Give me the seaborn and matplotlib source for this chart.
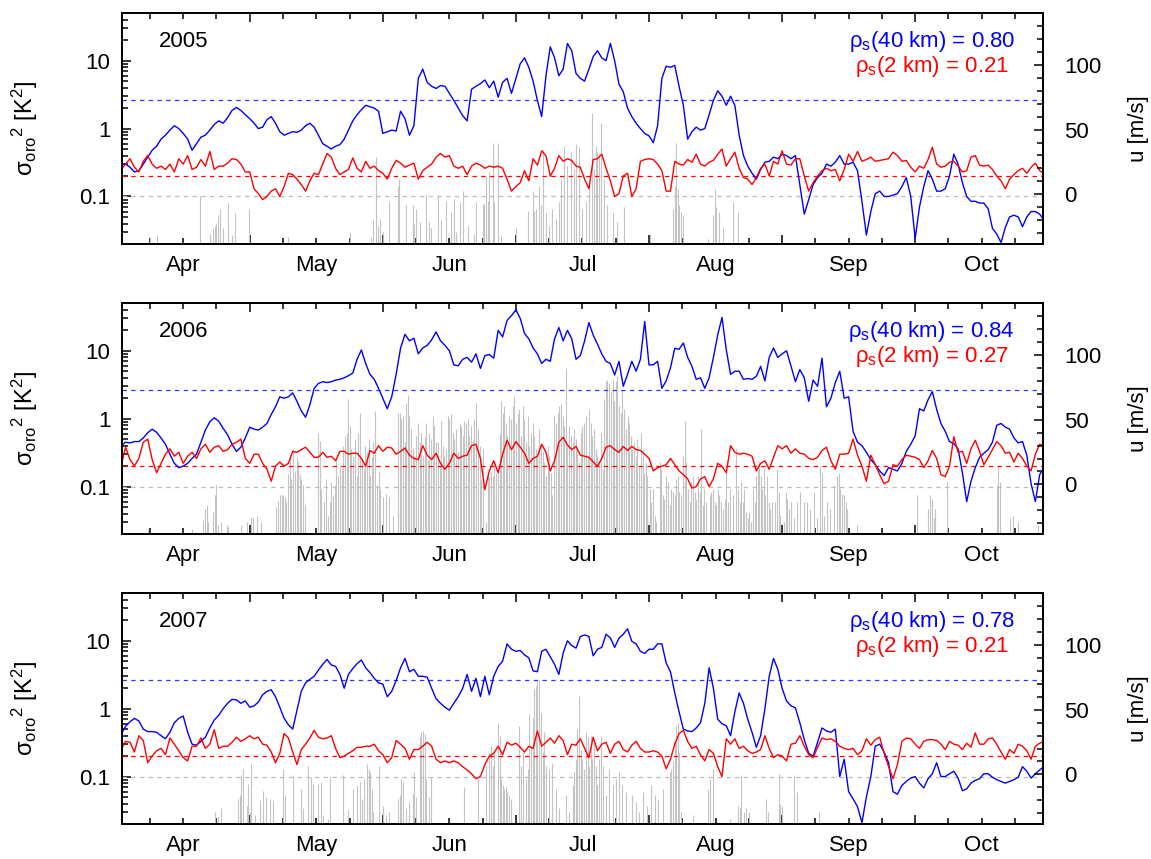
import matplotlib
matplotlib.use("Agg")
import numpy as np
import pandas as pd
import matplotlib.pyplot as plt
from matplotlib.ticker import (FixedLocator, FixedFormatter, NullFormatter,
                               LogLocator, MultipleLocator)
import seaborn as sns

sns.set_theme(style="white")
plt.rcParams["font.family"] = ["Liberation Sans", "DejaVu Sans"]
plt.rcParams.update({
    "mathtext.fontset": "custom",
    "mathtext.rm": "Liberation Sans",
    "mathtext.it": "Liberation Sans:italic",
    "mathtext.bf": "Liberation Sans:bold",
    "axes.edgecolor": "black",
    "axes.linewidth": 1.3,
    "xtick.color": "black",
    "ytick.color": "black",
    "text.color": "black",
    "axes.labelcolor": "black",
})

# ---------------------------------------------------------------- data
MONTH_LABELS = ["Apr", "May", "Jun", "Jul", "Aug", "Sep", "Oct"]
YEARS = [2005, 2006, 2007]
RHO_40KM = [0.80, 0.84, 0.78]
RHO_2KM = [0.21, 0.27, 0.21]
LEVEL_40KM = 2.6    # K^2
LEVEL_2KM = 0.2     # K^2
LEVEL_ZERO = 0.1    # K^2

# daily orographic GW temperature variance at 40 km, starting 1 April
var40_2005 = [
    0.30, 0.29, 0.30, 0.27, 0.23, 0.24, 0.30, 0.38, 0.48, 0.55, 0.70, 0.80, 0.95, 1.10, 1.00,
    0.85, 0.70, 0.48, 0.60, 0.75, 0.80, 0.95, 1.15, 1.30, 1.20, 1.45, 1.85, 2.05, 1.85, 1.60,
    1.40, 1.20, 1.00, 1.05, 1.35, 1.50, 1.20, 0.90, 0.80, 0.85, 0.90, 0.88, 0.95, 1.10, 1.20, 1.05,
    0.80, 0.60, 0.55, 0.50, 0.55, 0.58, 0.70, 0.95, 1.30, 1.60, 1.90, 2.20, 2.10, 2.00, 1.80,
    0.85, 0.90, 0.95, 0.92, 1.80, 1.40, 0.80, 1.10, 5.50, 7.50, 4.80, 4.20, 3.90, 4.30, 4.20,
    3.30, 2.60, 2.00, 1.55, 1.30, 3.80, 4.20, 4.60, 5.20, 4.00, 5.00, 2.90, 4.80, 5.50, 3.30,
    5.50, 9.00, 11.0, 8.00, 5.00, 2.60, 1.50, 6.00, 16.0, 11.0, 6.00, 7.50, 18.0, 14.0, 6.50, 5.50,
    5.00, 7.50, 11.5, 14.0, 11.0, 10.0, 18.0, 10.0, 4.50, 3.50, 2.00, 1.50, 1.20, 1.00, 0.85,
    0.78, 0.62, 1.10, 5.50, 8.30, 8.00, 8.50, 4.20, 2.20, 0.70, 0.90, 1.05, 0.95, 1.00, 1.60, 2.60,
    3.60, 3.00, 2.20, 3.00, 2.20, 0.80, 0.40, 0.28, 0.22, 0.18, 0.25, 0.32, 0.33, 0.38, 0.36,
    0.42, 0.40, 0.36, 0.40, 0.15, 0.055, 0.09, 0.15, 0.19, 0.22, 0.30, 0.28, 0.32, 0.40, 0.30,
    0.30, 0.32, 0.24, 0.085, 0.027, 0.06, 0.11, 0.12, 0.10, 0.10, 0.105, 0.11, 0.14, 0.19, 0.10,
    0.024, 0.07, 0.14, 0.24, 0.18, 0.12, 0.12, 0.13, 0.20, 0.42, 0.30, 0.16, 0.10, 0.085, 0.085, 0.08,
    0.08, 0.066, 0.034, 0.028, 0.021, 0.035, 0.05, 0.053, 0.05, 0.036, 0.05, 0.06, 0.06, 0.055, 0.045,
]
var40_2006 = [
    0.36, 0.40, 0.45, 0.44, 0.46, 0.46, 0.52, 0.62, 0.70, 0.63, 0.52, 0.42, 0.30, 0.22, 0.19,
    0.20, 0.22, 0.26, 0.30, 0.45, 0.68, 0.90, 1.03, 0.92, 0.72, 0.58, 0.42, 0.33, 0.38, 0.52,
    0.75, 0.70, 0.68, 0.75, 0.85, 1.15, 1.50, 2.10, 2.00, 2.10, 2.40, 1.80, 1.30, 1.05, 1.60, 2.80,
    3.30, 3.50, 3.40, 3.50, 3.70, 3.80, 4.00, 4.30, 4.70, 7.50, 10.3, 6.50, 4.50, 3.80, 2.80,
    2.00, 1.40, 2.10, 4.50, 11.0, 17.5, 14.0, 15.3, 9.00, 11.0, 12.0, 14.5, 19.0, 14.0, 12.0,
    10.0, 6.20, 6.00, 7.50, 8.00, 6.80, 9.00, 5.50, 8.50, 8.80, 7.80, 20.0, 16.0, 28.0, 33.0,
    40.0, 30.0, 18.0, 15.0, 11.0, 9.00, 6.50, 7.50, 7.00, 15.0, 22.0, 14.0, 20.0, 15.0, 7.50, 8.50,
    14.0, 26.0, 17.0, 12.5, 9.00, 7.00, 6.50, 4.40, 7.00, 3.00, 4.50, 7.00, 5.00, 7.50, 27.0,
    6.20, 6.20, 7.00, 2.80, 3.60, 5.60, 10.9, 10.5, 13.0, 8.00, 5.90, 3.80, 4.00, 2.80, 4.00, 8.00,
    17.0, 31.0, 10.3, 4.50, 5.00, 5.00, 3.80, 3.90, 3.80, 4.20, 5.90, 3.60, 8.00, 11.0, 8.00,
    9.00, 10.0, 6.00, 3.50, 5.30, 4.00, 1.80, 3.70, 3.00, 7.80, 1.50, 2.00, 3.40, 5.00, 2.00,
    2.10, 0.65, 0.45, 0.40, 0.32, 0.25, 0.21, 0.17, 0.145, 0.19, 0.18, 0.17, 0.22, 0.33, 0.42,
    0.56, 1.40, 1.30, 1.90, 2.50, 1.37, 0.85, 0.65, 0.46, 0.43, 0.36, 0.16, 0.06, 0.12, 0.19, 0.27,
    0.31, 0.35, 0.45, 0.80, 0.85, 0.75, 0.70, 0.52, 0.44, 0.46, 0.29, 0.11, 0.06, 0.15, 0.19,
]
var40_2007 = [
    0.36, 0.42, 0.55, 0.64, 0.72, 0.66, 0.50, 0.46, 0.46, 0.45, 0.40, 0.36, 0.45, 0.62, 0.72,
    0.78, 0.45, 0.30, 0.29, 0.33, 0.38, 0.52, 0.68, 0.80, 1.00, 1.20, 1.37, 1.35, 1.20, 1.30,
    1.05, 1.10, 1.25, 1.60, 1.80, 1.90, 1.50, 1.05, 0.72, 0.58, 0.50, 0.95, 1.80, 2.40, 2.70, 3.00,
    3.70, 4.50, 5.30, 4.40, 4.20, 3.20, 2.00, 3.20, 3.90, 4.60, 5.20, 4.00, 3.40, 2.80, 2.40,
    2.30, 1.50, 1.80, 2.60, 4.00, 5.50, 3.50, 3.80, 3.00, 3.00, 2.90, 2.00, 1.40, 1.20, 1.05,
    0.95, 1.20, 1.50, 2.00, 3.20, 1.80, 2.80, 1.50, 3.00, 1.60, 3.00, 4.20, 5.00, 9.00, 7.50,
    7.00, 7.20, 6.20, 5.60, 3.60, 3.50, 7.00, 7.50, 5.80, 4.50, 3.20, 6.60, 10.0, 8.50, 7.80, 11.5,
    12.2, 11.6, 6.00, 7.50, 8.00, 12.5, 11.0, 8.00, 10.9, 12.5, 15.0, 9.80, 9.00, 7.00, 6.50,
    7.50, 7.50, 9.00, 9.00, 4.70, 3.50, 1.70, 0.90, 0.50, 0.47, 0.46, 0.52, 0.62, 1.20, 4.00, 2.00,
    0.70, 0.60, 0.56, 0.40, 0.90, 1.70, 1.20, 0.70, 0.45, 0.27, 0.40, 1.00, 3.00, 5.50, 3.80,
    2.00, 1.30, 1.10, 1.03, 0.62, 0.35, 0.22, 0.20, 0.32, 0.52, 0.47, 0.45, 0.50, 0.10, 0.18,
    0.06, 0.047, 0.036, 0.021, 0.05, 0.10, 0.28, 0.30, 0.23, 0.16, 0.06, 0.055, 0.074, 0.085, 0.095,
    0.10, 0.08, 0.068, 0.093, 0.11, 0.16, 0.10, 0.10, 0.11, 0.12, 0.095, 0.062, 0.066, 0.08, 0.088,
    0.093, 0.11, 0.11, 0.098, 0.09, 0.085, 0.08, 0.085, 0.09, 0.098, 0.14, 0.12, 0.095, 0.11, 0.125, 0.14,
]

# daily orographic GW temperature variance at 2 km, starting 1 April
var2_2005 = [
    0.26, 0.25, 0.30, 0.36, 0.27, 0.23, 0.33, 0.40, 0.30, 0.26, 0.28, 0.25, 0.30, 0.23, 0.36,
    0.30, 0.40, 0.25, 0.27, 0.35, 0.28, 0.46, 0.25, 0.28, 0.28, 0.31, 0.36, 0.35, 0.30, 0.23,
    0.23, 0.13, 0.11, 0.09, 0.10, 0.12, 0.13, 0.10, 0.14, 0.22, 0.21, 0.18, 0.15, 0.12, 0.17, 0.22,
    0.21, 0.30, 0.43, 0.38, 0.26, 0.21, 0.23, 0.25, 0.37, 0.26, 0.23, 0.33, 0.26, 0.28, 0.24,
    0.22, 0.18, 0.26, 0.34, 0.31, 0.27, 0.29, 0.31, 0.18, 0.24, 0.27, 0.30, 0.38, 0.43, 0.38,
    0.40, 0.28, 0.26, 0.28, 0.21, 0.28, 0.31, 0.29, 0.26, 0.28, 0.27, 0.28, 0.26, 0.18, 0.12,
    0.14, 0.16, 0.24, 0.17, 0.36, 0.29, 0.47, 0.40, 0.20, 0.26, 0.40, 0.33, 0.36, 0.34, 0.28, 0.27,
    0.18, 0.13, 0.35, 0.36, 0.42, 0.26, 0.17, 0.10, 0.11, 0.20, 0.22, 0.10, 0.13, 0.33, 0.35,
    0.36, 0.35, 0.30, 0.24, 0.12, 0.12, 0.33, 0.30, 0.29, 0.35, 0.32, 0.42, 0.30, 0.28, 0.32, 0.34,
    0.42, 0.50, 0.28, 0.36, 0.45, 0.26, 0.19, 0.18, 0.15, 0.19, 0.26, 0.30, 0.20, 0.33, 0.30,
    0.47, 0.30, 0.29, 0.36, 0.36, 0.20, 0.12, 0.16, 0.20, 0.24, 0.26, 0.24, 0.25, 0.17, 0.25,
    0.42, 0.33, 0.46, 0.33, 0.35, 0.38, 0.33, 0.34, 0.35, 0.36, 0.45, 0.40, 0.33, 0.34, 0.27,
    0.23, 0.28, 0.26, 0.35, 0.53, 0.30, 0.27, 0.28, 0.32, 0.33, 0.28, 0.23, 0.24, 0.38, 0.40, 0.29,
    0.28, 0.29, 0.25, 0.20, 0.17, 0.13, 0.18, 0.21, 0.24, 0.26, 0.22, 0.27, 0.31, 0.24, 0.22,
]
var2_2006 = [
    0.22, 0.20, 0.38, 0.25, 0.20, 0.26, 0.45, 0.50, 0.25, 0.16, 0.22, 0.30, 0.36, 0.28, 0.32,
    0.22, 0.28, 0.32, 0.26, 0.36, 0.42, 0.32, 0.38, 0.40, 0.33, 0.35, 0.42, 0.45, 0.50, 0.26,
    0.22, 0.30, 0.30, 0.22, 0.18, 0.12, 0.20, 0.23, 0.20, 0.22, 0.33, 0.32, 0.35, 0.38, 0.32, 0.27,
    0.27, 0.32, 0.27, 0.28, 0.24, 0.33, 0.33, 0.30, 0.31, 0.31, 0.26, 0.20, 0.34, 0.31, 0.40,
    0.33, 0.38, 0.37, 0.30, 0.33, 0.37, 0.29, 0.26, 0.25, 0.40, 0.29, 0.25, 0.31, 0.22, 0.18,
    0.22, 0.31, 0.26, 0.28, 0.29, 0.40, 0.42, 0.26, 0.09, 0.17, 0.24, 0.16, 0.30, 0.48, 0.35,
    0.46, 0.38, 0.31, 0.22, 0.26, 0.28, 0.42, 0.32, 0.17, 0.24, 0.45, 0.53, 0.41, 0.35, 0.39, 0.29,
    0.28, 0.27, 0.23, 0.20, 0.26, 0.38, 0.40, 0.35, 0.32, 0.39, 0.34, 0.39, 0.35, 0.34, 0.30,
    0.26, 0.17, 0.19, 0.20, 0.21, 0.26, 0.21, 0.17, 0.15, 0.13, 0.095, 0.10, 0.13, 0.14, 0.10, 0.13,
    0.22, 0.20, 0.16, 0.40, 0.32, 0.30, 0.31, 0.30, 0.28, 0.17, 0.22, 0.24, 0.18, 0.27, 0.40,
    0.36, 0.40, 0.31, 0.36, 0.31, 0.30, 0.26, 0.25, 0.27, 0.34, 0.38, 0.24, 0.18, 0.30, 0.30,
    0.31, 0.50, 0.29, 0.20, 0.12, 0.29, 0.21, 0.15, 0.11, 0.12, 0.21, 0.20, 0.25, 0.29, 0.28,
    0.27, 0.25, 0.19, 0.24, 0.34, 0.26, 0.15, 0.14, 0.20, 0.54, 0.32, 0.33, 0.22, 0.36, 0.48, 0.33,
    0.21, 0.27, 0.35, 0.46, 0.40, 0.31, 0.32, 0.23, 0.31, 0.26, 0.20, 0.17, 0.30, 0.42, 0.40,
]
var2_2007 = [
    0.25, 0.25, 0.33, 0.32, 0.23, 0.40, 0.34, 0.16, 0.20, 0.24, 0.26, 0.21, 0.37, 0.30, 0.24,
    0.19, 0.17, 0.28, 0.28, 0.37, 0.26, 0.30, 0.49, 0.26, 0.28, 0.28, 0.32, 0.38, 0.33, 0.36,
    0.40, 0.36, 0.38, 0.30, 0.29, 0.23, 0.16, 0.22, 0.43, 0.37, 0.23, 0.15, 0.25, 0.30, 0.37, 0.48,
    0.38, 0.36, 0.37, 0.40, 0.26, 0.19, 0.20, 0.22, 0.24, 0.27, 0.27, 0.28, 0.28, 0.30, 0.24,
    0.21, 0.16, 0.19, 0.34, 0.30, 0.26, 0.18, 0.25, 0.25, 0.28, 0.32, 0.28, 0.18, 0.16, 0.17,
    0.16, 0.17, 0.16, 0.14, 0.125, 0.11, 0.093, 0.10, 0.15, 0.20, 0.22, 0.28, 0.21, 0.32, 0.29,
    0.31, 0.27, 0.23, 0.28, 0.26, 0.47, 0.28, 0.32, 0.37, 0.31, 0.40, 0.34, 0.21, 0.30, 0.29, 0.36,
    0.26, 0.19, 0.38, 0.24, 0.30, 0.32, 0.22, 0.30, 0.33, 0.25, 0.23, 0.29, 0.33, 0.26, 0.23,
    0.23, 0.24, 0.23, 0.20, 0.13, 0.18, 0.30, 0.43, 0.48, 0.33, 0.26, 0.28, 0.21, 0.17, 0.25, 0.22,
    0.14, 0.10, 0.36, 0.30, 0.36, 0.26, 0.28, 0.24, 0.22, 0.23, 0.25, 0.40, 0.26, 0.19, 0.21,
    0.20, 0.17, 0.30, 0.31, 0.40, 0.28, 0.21, 0.19, 0.27, 0.37, 0.35, 0.36, 0.33, 0.28, 0.26,
    0.25, 0.26, 0.21, 0.24, 0.36, 0.29, 0.35, 0.38, 0.22, 0.14, 0.093, 0.15, 0.33, 0.37, 0.36,
    0.30, 0.26, 0.33, 0.35, 0.35, 0.34, 0.30, 0.25, 0.33, 0.30, 0.29, 0.25, 0.31, 0.27, 0.44, 0.30,
    0.30, 0.36, 0.37, 0.30, 0.23, 0.18, 0.25, 0.22, 0.30, 0.28, 0.24, 0.18, 0.28, 0.31, 0.33,
]

# sub-daily samples shown as impulses: time (days after 1 April) and value
bar_day_2005 = [
    7.5, 9.2, 18.8, 21.0, 21.8, 22.1, 22.5, 22.9, 23.3, 24.0, 25.1, 25.9, 26.6, 29.9, 38.9, 53.3,
    58.3, 58.7, 59.3, 59.8, 60.4, 61.0, 62.3, 64.4, 64.75, 66.3, 67.8, 68.1, 68.5, 69.3, 70.8,
    71.5, 71.9, 73.4, 74.1, 75.3, 76.4, 77.1, 77.5, 78.3, 79.0, 80.1, 81.6, 82.0, 83.5, 83.9,
    84.3, 84.6, 85.0, 85.8, 86.1, 86.9, 87.6, 91.0, 93.7, 94.9, 95.3, 95.7, 96.4, 96.8, 97.2,
    98.0, 98.8, 99.5, 100.3, 101.1, 101.5, 102.2, 103.0, 103.8, 104.6, 105.0, 105.7, 106.5,
    107.3, 108.1, 108.8, 109.2, 109.6, 110.0, 110.4, 110.8, 111.5, 112.3, 113.5, 114.6, 116.2,
    122.2, 127.6, 128.0, 128.4, 128.7, 129.1, 129.5, 129.9, 135.7, 136.9, 137.3, 137.7, 138.4,
    139.2, 141.5, 142.7,
]
bar_val_2005 = [
    0.025, 0.027, 0.10, 0.028, 0.034, 0.037, 0.041, 0.053, 0.065, 0.034, 0.081, 0.027, 0.057,
    0.066, 0.025, 0.030, 0.025, 0.046, 0.377, 0.037, 0.046, 0.030, 0.087, 0.145, 0.18, 0.074,
    0.074, 0.040, 0.066, 0.042, 0.11, 0.042, 0.034, 0.104, 0.045, 0.085, 0.059, 0.093, 0.030,
    0.083, 0.122, 0.037, 0.028, 0.083, 0.078, 0.078, 0.203, 0.087, 0.227, 0.62, 0.083, 0.62,
    0.027, 0.034, 0.062, 0.122, 0.062, 0.066, 0.145, 0.074, 0.50, 0.059, 0.037, 0.066, 0.047,
    0.083, 0.18, 0.56, 0.28, 0.45, 0.25, 0.59, 0.53, 0.066, 0.083, 0.145, 1.71, 0.25, 0.56,
    0.45, 0.42, 1.22, 0.18, 0.074, 0.059, 0.042, 0.07, 0.028, 0.066, 0.145, 0.62, 0.13, 0.074,
    0.059, 0.053, 0.024, 0.053, 0.13, 0.07, 0.059, 0.034, 0.083, 0.059,
]
bar_day_2006 = [
    7.1, 16.9, 19.5, 19.9, 20.3, 20.6, 21.8, 22.1, 22.5, 22.9, 23.6, 24.8, 25.1, 28.1, 29.3,
    30.4, 30.8, 31.6, 32.7, 36.2, 36.6, 37.0, 37.4, 37.8, 38.1, 38.5, 38.9, 39.3, 39.7, 40.1,
    40.5, 40.9, 41.3, 41.6, 42.0, 42.4, 42.8, 45.9, 46.3, 46.7, 47.4, 47.8, 48.2, 48.6, 49.0,
    49.4, 49.8, 50.2, 50.6, 51.0, 51.4, 51.8, 52.2, 52.6, 52.9, 53.3, 53.7, 54.1, 54.5, 54.9,
    55.3, 55.7, 56.1, 56.5, 56.9, 57.3, 57.7, 58.1, 58.4, 58.8, 59.2, 59.6, 60.0,
    60.3, 61.0, 61.8, 62.5, 63.3, 64.4, 64.8, 65.1, 65.5, 65.9, 66.3, 66.6, 67.0, 67.4, 67.8,
    68.1, 68.5, 68.9, 69.3, 69.6, 70.0, 70.4, 70.8, 71.1, 71.5, 71.9, 72.3, 72.6, 73.0, 73.4,
    73.8, 74.1, 74.5, 74.9, 75.3, 75.6, 76.0, 76.4, 76.8, 77.1, 77.5, 77.9, 78.3, 78.6, 79.0,
    79.4, 79.8, 80.1, 80.5, 80.9, 81.3, 81.6, 82.0, 82.4, 82.8, 83.1, 83.5, 84.3, 84.6, 85.0,
    85.4, 85.8, 86.1, 86.5, 86.9, 87.3, 87.6, 88.0, 88.4, 88.8, 89.1, 89.5, 89.9, 90.3, 90.6,
    91.0, 91.4, 91.8, 92.2, 92.6, 92.9, 93.3, 93.7, 94.1, 94.5, 94.9, 95.3, 95.7, 96.0, 96.4,
    96.8, 97.2, 97.6, 98.0, 98.4, 98.8, 99.1, 99.5, 99.9, 100.3, 100.7, 101.1, 101.5, 101.9,
    102.2, 102.6, 103.0, 103.4, 103.8, 104.2, 104.6, 105.0, 105.3, 105.7, 106.1, 106.5, 106.9,
    107.3, 107.7, 108.1, 108.4, 108.8, 109.2, 109.6, 110.0, 110.4, 110.8, 111.2, 111.5, 111.9,
    112.3, 112.7, 113.1, 113.5, 113.9, 114.3, 114.6, 115.0, 115.4, 115.8, 116.2, 116.6, 117.0,
    117.4, 117.7, 118.1, 118.5, 118.9, 119.3, 119.7, 120.1, 120.5, 120.8, 121.2, 121.6, 122.2,
    122.5, 122.9, 123.3, 123.7, 124.5, 124.9, 125.3, 125.6, 126.0, 126.4, 126.8, 127.2, 127.6,
    128.0, 128.4, 128.7, 129.1, 129.5, 129.9, 130.3, 130.7, 131.1, 131.5, 131.8, 132.2, 132.6,
    133.0, 133.4, 133.8, 134.2, 134.6, 134.9, 135.3, 136.1, 136.5, 136.9, 137.3, 137.7, 138.0,
    138.4, 138.8, 139.2, 139.6, 140.0, 140.4, 140.8, 141.5, 142.3, 142.7, 143.1, 143.5, 143.9,
    144.2, 144.6, 145.0, 145.4, 145.8, 146.2, 146.6, 147.0, 147.3, 147.7,
    148.0, 148.3, 148.7, 149.1, 149.5, 149.9, 150.3, 150.7, 151.4, 151.8, 152.2, 152.6, 153.4,
    153.8, 154.1, 154.5, 154.9, 155.6, 156.4, 157.1, 157.9, 158.6, 159.4, 160.1, 160.9, 161.6,
    162.0, 162.4, 163.1, 163.9, 164.6, 165.4, 165.8, 166.1, 166.5, 166.9, 167.3, 167.6, 169.9,
    183.4, 186.1, 186.5, 186.9, 187.3, 187.7, 190.4, 202.0, 202.4, 202.8, 205.1, 205.9, 207.0,
    211.7,
]
bar_val_2006 = [
    0.024, 0.024, 0.032, 0.047, 0.054, 0.030, 0.042, 0.074, 0.104, 0.027, 0.030, 0.027, 0.025,
    0.027, 0.030, 0.034, 0.036, 0.037, 0.030, 0.050, 0.062, 0.074, 0.074, 0.074, 0.070, 0.059,
    0.154, 0.284, 0.130, 0.355, 0.171, 0.27, 0.227, 0.154, 0.130, 0.104, 0.056, 0.62, 0.47,
    0.093, 0.059, 0.13, 0.037, 0.059, 0.116, 0.074, 0.104, 0.25, 0.145, 0.203, 0.18, 0.40,
    0.56, 0.62, 1.92, 0.78, 0.355, 0.284, 0.50, 0.145, 0.62, 1.22, 0.25, 0.18, 0.40, 0.32,
    0.50, 0.145, 0.27, 0.45, 1.29, 0.104, 0.171,
    0.093, 0.070, 0.078, 0.070, 0.037, 1.22, 1.22, 0.98, 1.09, 0.45, 1.71, 2.27, 1.09, 0.70,
    0.355, 0.284, 0.56, 0.87, 0.45, 0.62, 0.284, 0.53, 0.87, 0.25, 0.62, 0.50, 1.09, 0.78,
    0.45, 0.45, 0.203, 0.92, 0.40, 0.284, 0.355, 1.09, 0.98, 1.16, 0.62, 0.50, 0.70, 0.32,
    0.87, 0.78, 0.56, 0.92, 0.87, 0.98, 0.56, 0.78, 0.47, 0.98, 1.71, 0.70, 0.40, 0.13, 0.355,
    0.030, 0.145, 0.145, 0.171, 0.145, 0.227, 0.16, 0.18, 0.59, 1.81, 1.22, 1.53, 0.87, 0.56,
    1.09, 0.98, 1.53, 2.15, 0.87, 1.22, 1.37, 0.56, 1.53, 0.98, 0.45, 1.09, 0.40, 0.62, 0.87,
    0.56, 0.355, 0.284, 0.70, 0.40, 0.32, 0.227, 0.145, 0.40, 0.284, 0.16, 0.074, 1.09, 0.87,
    1.22, 1.53, 1.62, 1.09, 0.78, 5.6, 0.40, 0.78, 0.56, 0.45, 0.70, 0.50, 0.355, 0.227, 0.62,
    0.78, 0.87, 1.09, 0.284, 1.37, 0.87, 0.56, 0.70, 0.355, 0.284, 0.227, 0.62, 0.18, 1.92,
    3.55, 3.76, 3.36, 2.54, 3.76, 1.81, 3.55, 4.2, 1.53, 1.22, 2.68, 1.37, 0.70, 1.09, 0.87,
    0.56, 0.355, 0.45, 0.284, 0.50, 0.203, 0.62, 0.355, 0.16, 0.227, 0.145, 0.093, 0.059, 0.093,
    0.037, 0.030, 0.227, 0.18, 0.074, 0.066, 0.145, 0.116, 0.053, 0.093, 0.083, 0.074, 0.13,
    0.145, 0.083, 0.074, 0.284, 0.92, 0.227, 0.093, 0.059, 0.116, 0.145, 0.083, 0.066, 0.145,
    0.083, 0.70, 0.053, 0.093, 0.059, 0.074, 0.083, 0.093, 0.059, 0.053, 0.093, 0.074, 0.059,
    0.047, 0.066, 0.16, 0.059, 0.093, 0.074, 0.355, 0.093, 0.059, 0.116, 0.059, 0.093, 0.042,
    0.034, 0.042, 0.030, 0.093, 0.059, 0.145, 0.18, 0.227,
    0.145, 0.093, 0.18, 0.074, 0.145, 0.059, 0.047, 0.059, 0.059, 0.18, 0.083, 0.037, 0.030,
    0.083, 0.066, 0.047, 0.059, 0.034, 0.059, 0.083, 0.059, 0.059, 0.047, 0.083, 0.034, 0.203,
    0.16, 0.037, 0.059, 0.047, 0.104, 0.145, 0.16, 0.093, 0.078, 0.074, 0.059, 0.047, 0.027,
    0.074, 0.047, 0.074, 0.066, 0.034, 0.047, 0.116, 0.104, 0.203, 0.116, 0.034, 0.037, 0.030,
    0.027,
]
bar_day_2007 = [
    22.1, 22.9, 23.6, 27.4, 27.8, 28.1, 28.5, 29.3, 29.6, 30.0, 30.4, 31.2, 32.3, 33.1, 33.9,
    34.7, 35.4, 37.8, 38.1, 40.1, 42.0, 42.4, 43.6, 44.3, 44.7, 45.9, 46.7, 47.1, 48.2, 48.6,
    51.7, 52.9, 54.1, 54.9, 55.7, 56.1, 56.5, 57.3, 57.7, 58.1, 58.4, 58.8, 60.0, 61.0, 61.8,
    62.5, 64.4, 64.8, 65.1, 65.5, 66.3, 67.0, 67.8, 68.1, 68.5, 69.3, 69.6, 70.0, 70.4, 70.8,
    71.5, 71.9, 79.4, 82.4, 84.3, 85.0, 85.4, 85.8, 86.1, 86.9, 87.3, 87.6, 88.0, 88.4, 88.8,
    89.1, 89.5, 89.9, 91.8, 92.2, 92.6, 93.3, 93.7, 94.1, 94.5, 94.9, 95.3, 95.7, 96.0, 96.4,
    96.8, 97.2, 97.6, 98.0, 98.8, 99.5, 100.3, 101.1, 102.6, 103.4, 104.2, 104.6, 105.0, 105.3,
    105.7, 106.1, 106.5, 106.9, 107.3, 107.7, 108.1, 108.4, 108.8, 109.2, 109.6, 110.0, 110.4,
    110.8, 111.2, 111.9, 112.7, 113.5, 114.3, 115.0, 115.8, 116.6, 118.1, 118.9, 119.7, 120.5,
    121.6, 122.5, 123.3, 124.1, 125.3, 126.8, 127.2, 127.6, 128.0, 128.4, 128.7, 129.1, 129.5,
    132.2, 135.7, 136.1, 136.9, 140.8, 142.7, 143.1, 143.5, 144.2, 144.6, 145.4, 149.3, 149.7,
    152.2, 152.6, 153.0, 155.6, 156.4, 161.3,
]
bar_val_2007 = [
    0.030, 0.025, 0.034, 0.047, 0.053, 0.104, 0.13, 0.037, 0.078, 0.030, 0.154, 0.027, 0.045,
    0.062, 0.05, 0.047, 0.045, 0.13, 0.053, 0.104, 0.066, 0.034, 0.145, 0.097, 0.078, 0.078,
    0.083, 0.027, 0.024, 0.097, 0.104, 0.032, 0.066, 0.074, 0.083, 0.047, 0.093, 0.154, 0.13,
    0.116, 0.066, 0.030, 0.145, 0.037, 0.027, 0.030, 0.047, 0.053, 0.093, 0.083, 0.034, 0.042,
    0.056, 0.116, 0.05, 0.377, 0.45, 0.47, 0.42, 0.093, 0.05, 0.097, 0.07, 0.093, 0.145, 0.227,
    0.284, 0.145, 0.227, 0.62, 0.40, 0.093, 0.074, 0.066, 0.070, 0.059, 0.053, 0.047, 0.56,
    0.145, 0.227, 0.093, 0.13, 0.83, 0.284, 0.74, 1.92, 2.15, 2.68, 2.68, 0.87, 0.227, 0.45,
    0.145, 0.13, 0.16, 0.066, 0.034, 0.053, 0.030, 0.074, 0.116, 0.18, 0.50, 1.53, 0.25, 0.18,
    0.13, 0.45, 0.40, 0.145, 0.40, 0.18, 0.32, 0.145, 0.074, 0.18, 0.40, 0.145, 0.053, 0.13,
    0.074, 0.093, 0.116, 0.074, 0.059, 0.053, 0.042, 0.030, 0.059, 0.037, 0.074, 0.053, 0.047,
    0.066, 0.116, 0.13, 0.17, 0.32, 0.56, 0.62, 0.227, 0.030, 0.027, 0.066, 0.093, 0.13, 0.024,
    0.037, 0.034, 0.104, 0.030, 0.034, 0.030, 0.047, 0.030, 0.11, 0.040, 0.037, 0.104, 0.059,
    0.030,
]

VAR40 = {2005: var40_2005, 2006: var40_2006, 2007: var40_2007}
VAR2 = {2005: var2_2005, 2006: var2_2006, 2007: var2_2007}
BAR_DAY = {2005: bar_day_2005, 2006: bar_day_2006, 2007: bar_day_2007}
BAR_VAL = {2005: bar_val_2005, 2006: bar_val_2006, 2007: bar_val_2007}

# ---------------------------------------------------------------- layout
Y_MIN, Y_MAX = 0.02, 50.0
U_MIN, U_MAX = -38.4, 140.0
X_MIN, X_MAX = 4.0375, 10.9625
AX_LEFT, AX_W, AX_H = 0.1057, 0.8007, 0.2686
AX_BOTTOMS = [0.7160, 0.3783, 0.0407]
FS = 16
BLUE, RED, GREY = "#0000ff", "#ff0000", "#c4c4c4"


def month_coord(times):
    """Continuous month axis: each calendar month spans one unit."""
    t = pd.DatetimeIndex(times)
    frac = (t.day - 1 + t.hour / 24.0 + t.minute / 1440.0) / t.days_in_month
    return np.asarray(t.month + frac, dtype=float)


fig = plt.figure(figsize=(11.51, 8.59), dpi=100)

for i, year in enumerate(YEARS):
    ax = fig.add_axes([AX_LEFT, AX_BOTTOMS[i], AX_W, AX_H])
    start = pd.Timestamp(f"{year}-04-01")

    days = pd.date_range(start, periods=len(VAR40[year]), freq="D")
    x_days = month_coord(days)
    x_bars = month_coord(start + pd.to_timedelta(BAR_DAY[year], unit="D"))

    ax.set_yscale("log")
    ax.vlines(x_bars, Y_MIN, BAR_VAL[year], colors=GREY, linewidth=0.8, zorder=1)

    for level, color in ((LEVEL_ZERO, "#bdbdbd"), (LEVEL_2KM, RED), (LEVEL_40KM, "#3333ff")):
        ax.axhline(level, color=color, lw=0.9, ls=(0, (3.5, 3.5)), zorder=2)

    sns.lineplot(x=x_days, y=VAR40[year], ax=ax, color=BLUE, linewidth=1.0,
                 estimator=None, sort=False, zorder=3)
    sns.lineplot(x=x_days, y=VAR2[year], ax=ax, color=RED, linewidth=1.0,
                 estimator=None, sort=False, zorder=4)

    ax.set_xlim(X_MIN, X_MAX)
    ax.set_ylim(Y_MIN, Y_MAX)

    # month boundaries as major ticks, quarter-months as minor, names mid-month
    ax.xaxis.set_major_locator(FixedLocator(range(4, 12)))
    ax.xaxis.set_major_formatter(NullFormatter())
    minor_pos = [m + q / 4 for m in range(4, 11) for q in (1, 2, 3)]
    minor_lab = [MONTH_LABELS[m - 4] if q == 2 else "" for m in range(4, 11) for q in (1, 2, 3)]
    ax.xaxis.set_minor_locator(FixedLocator(minor_pos))
    ax.xaxis.set_minor_formatter(FixedFormatter(minor_lab))

    ax.yaxis.set_major_locator(FixedLocator([0.1, 1, 10]))
    ax.yaxis.set_major_formatter(FixedFormatter(["0.1", "1", "10"]))
    ax.yaxis.set_minor_locator(LogLocator(base=10, subs=np.arange(2, 10), numticks=30))
    ax.yaxis.set_minor_formatter(NullFormatter())

    ax.tick_params(which="both", direction="in", top=True, bottom=True, left=True,
                   right=False, width=1.1, labelsize=FS)
    ax.tick_params(which="major", length=6.5)
    ax.tick_params(which="minor", length=4)
    ax.tick_params(axis="x", which="both", pad=8)
    ax.tick_params(axis="y", which="both", pad=8)
    ax.set_xlabel("")
    ax.set_ylabel(r"$\mathrm{\sigma_{oro}{}^{2}}$ [K$^{2}$]", fontsize=FS + 1)
    ax.yaxis.set_label_coords(-0.0887, 0.5)
    ax.grid(False)

    ax2 = ax.twinx()
    ax2.set_ylim(U_MIN, U_MAX)
    ax2.yaxis.set_major_locator(FixedLocator([0, 50, 100]))
    ax2.yaxis.set_major_formatter(FixedFormatter(["0", "50", "100"]))
    ax2.yaxis.set_minor_locator(MultipleLocator(10))
    ax2.tick_params(axis="y", which="both", direction="in", width=1.1, pad=15, labelsize=FS)
    ax2.tick_params(axis="y", which="major", length=6.5)
    ax2.tick_params(axis="y", which="minor", length=4)
    ax2.set_ylabel("u [m/s]", fontsize=FS)
    ax2.yaxis.set_label_coords(1.092, 0.5)
    ax2.grid(False)

    ax.text(0.0405, 0.876, str(year), transform=ax.transAxes, ha="left", va="center",
            fontsize=FS)
    ax.text(0.879, 0.877, rf"$\mathrm{{\rho_s}}$(40 km) = {RHO_40KM[i]:.2f}",
            transform=ax.transAxes, ha="center", va="center", color=BLUE, fontsize=FS)
    ax.text(0.879, 0.7686, rf"$\mathrm{{\rho_s}}$(2 km) = {RHO_2KM[i]:.2f}",
            transform=ax.transAxes, ha="center", va="center", color=RED, fontsize=FS)

fig.savefig("out.png", dpi=100)
